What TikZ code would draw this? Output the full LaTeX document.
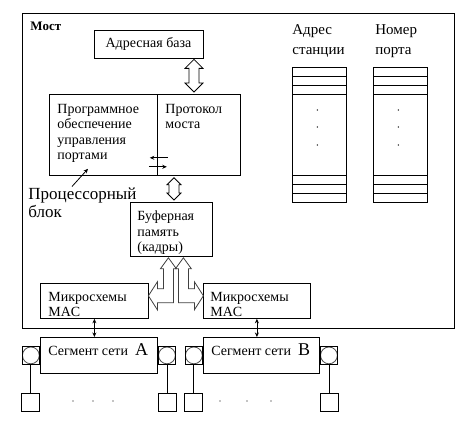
\documentclass[tikz,border=0pt]{standalone}
\usepackage{fontspec}
\setmainfont{Liberation Serif}
\usetikzlibrary{arrows.meta,calc,positioning}

% vertical hollow double arrow: [half head width]{top point}{bottom point}
\newcommand{\hollowarrow}[3][8]{%
  \draw let \p1=(#2), \p2=(#3) in
    (\x1,\y1) -- (\x1+#1pt,\y1-#1pt) -- (\x1+5pt,\y1-#1pt) -- (\x1+5pt,\y2+#1pt)
    -- (\x1+#1pt,\y2+#1pt) -- (\x1,\y2) -- (\x1-#1pt,\y2+#1pt) -- (\x1-5pt,\y2+#1pt)
    -- (\x1-5pt,\y1-#1pt) -- (\x1-#1pt,\y1-#1pt) -- cycle;}

\begin{document}
\begin{tikzpicture}[x=1pt, y=-1pt, line width=0.8pt, >={Stealth[length=4.5pt,width=4pt]},
  font=\fontsize{14}{15.5}\selectfont,
  box/.style={draw, inner sep=0},
  txt/.style={inner sep=0, align=left},
  port/.style={draw, minimum size=17.5, inner sep=0,
    path picture={\draw[black!70] (path picture bounding box.center) circle (8.4pt);}},
  station/.style={draw, minimum size=18, inner sep=0}]
\useasboundingbox (0,0) rectangle (468,427);

% bridge frame
\node[box, minimum width=432, minimum height=315, anchor=north west] (bridge) at (22,13) {};
\node[txt, anchor=base west, font=\fontsize{13}{15}\selectfont\bfseries] (bridgelbl) at (30,31) {Мост};

% address base and processor block
\node[box, minimum width=109, minimum height=28] (base) at (148.5,44) {Адресная база};
\node[box, minimum width=108, minimum height=81, anchor=north west] (soft) at (49,94) {};
\node[box, minimum width=83, minimum height=81, anchor=north west] (proto) at (157,94) {};
\node[txt, anchor=north west] (softtxt) at (57,103.7) {Программное\\обеспечение\\управления\\портами};
\node[txt, anchor=north west] (prototxt) at (165,103.7) {Протокол\\моста};
\node[txt, anchor=north west, font=\fontsize{17}{18}\selectfont] (cputxt) at (28,187.5) {Процессорный\\блок};

% buffer and MAC chips
\node[box, minimum width=82, minimum height=54, anchor=north west] (buffer) at (130,202) {};
\node[txt, anchor=north west] (buftxt) at (137,210.7) {Буферная\\память\\(кадры)};
\node[box, minimum width=108, minimum height=35, anchor=north west] (macl) at (40,283) {};
\node[box, minimum width=107, minimum height=35, anchor=north west] (macr) at (203,283) {};
\node[txt, anchor=north west] (macltxt) at (48,291.7) {Микросхемы\\MAC};
\node[txt, anchor=north west] (macrtxt) at (210,291.7) {Микросхемы\\MAC};

% address table
\node[txt, anchor=north west, font=\fontsize{15}{20}\selectfont] (sthead) at (292,24) {Адрес\\станции};
\node[txt, anchor=north west, font=\fontsize{15}{20}\selectfont] (porthead) at (375,24) {Номер\\порта};
\node[box, minimum width=54, minimum height=135, anchor=north west] (stcol) at (292,67) {};
\node[box, minimum width=54, minimum height=135, anchor=north west] (portcol) at (373,67) {};
\foreach \c in {stcol,portcol} {
  \foreach \dy in {9,18,27,108,117,126}
    \draw (\c.north west) ++(0,\dy) -- ++(54,0);
  \foreach \dy in {43,60,78}
    \fill (\c.north) ++(-2,\dy) circle (0.7);
}

% arrows inside the bridge
\coordinate (xa) at (194,0);
\coordinate (xb) at (174,0);
\hollowarrow[9]{$(base.south -| xa)+(0,1)$}{$(proto.north -| xa)+(0,-2)$}
\hollowarrow[7]{$(soft.south -| xb)+(0,2)$}{$(buffer.north -| xb)+(0,-2)$}
\draw[->] ([xshift=10pt,yshift=18pt]soft.south east) -- ([xshift=-8pt,yshift=18pt]soft.south east);
\draw[->] ([xshift=-9pt,yshift=9pt]soft.south east) -- ([xshift=9pt,yshift=9pt]soft.south east);
\draw[->] ([xshift=44pt,yshift=1pt]cputxt.north west) -- ([xshift=39pt,yshift=7pt]soft.south west);
\begin{scope}[shift={(buffer.south)}, draw=black!75]
  \draw (-3,1) -- (5,12) -- (2,12) -- (2,46) -- (-14,46) -- (-14,53) -- (-23,39)
    -- (-14,25) -- (-14,32) -- (-8,32) -- (-8,12) -- (-11,12) -- cycle;
  \draw (12,1) -- (4,12) -- (7,12) -- (7,46) -- (23,46) -- (23,53) -- (32,39)
    -- (23,25) -- (23,32) -- (17,32) -- (17,12) -- (20,12) -- cycle;
\end{scope}

% network segments
\node[box, minimum width=117, minimum height=36, anchor=north west] (sega) at (40,337) {};
\node[box, minimum width=116, minimum height=36, anchor=north west] (segb) at (203,337) {};
\node[txt, anchor=base west] (segatxt) at (48,355) {Сегмент сети\hspace{7pt}{\fontsize{18}{18}\selectfont A}};
\node[txt, anchor=base west] (segbtxt) at (211,355) {Сегмент сети\hspace{7pt}{\fontsize{18}{18}\selectfont B}};
\node[port, left=0pt of sega] (pa1) {};
\node[port, right=0pt of sega] (pa2) {};
\node[port, left=0pt of segb] (pb1) {};
\node[port, right=0pt of segb] (pb2) {};
\foreach \p/\s in {pa1/sa1, pa2/sa2, pb1/sb1, pb2/sb2} {
  \node[station, below=28pt of \p] (\s) {};
  \draw (\p) -- (\s);
}
\foreach \x in {73,93,113,220,247,271}
  \fill (\x,401) circle (0.7);
\draw[<->] (macl.south) -- (macl.south |- sega.north);
\draw[<->] (macr.south) -- (macr.south |- segb.north);
\end{tikzpicture}
\end{document}
